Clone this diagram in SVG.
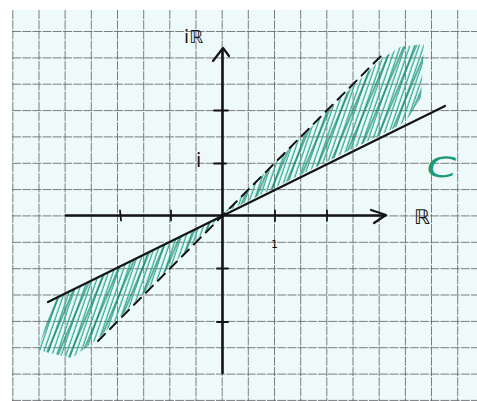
<svg xmlns="http://www.w3.org/2000/svg" width="477" height="401" viewBox="0 0 477 401">
<style>
.grid{fill:none;stroke:#666666;stroke-width:1;stroke-dasharray:9 1.2;opacity:.85}
.ink{fill:none;stroke:#141414;stroke-linecap:round;stroke-linejoin:round}
.lbl{font-family:"DejaVu Sans","Liberation Sans",sans-serif;fill:#141414}
</style>
<defs>
<pattern id="hatchA" patternUnits="userSpaceOnUse" width="4.4" height="30" patternTransform="rotate(19)">
<line x1="2" y1="0" x2="2" y2="30" stroke="#2fae94" stroke-width="1.3"/>
</pattern>
<pattern id="hatchB" patternUnits="userSpaceOnUse" width="11" height="30" patternTransform="rotate(23)">
<line x1="5" y1="0" x2="5" y2="30" stroke="#0d7a64" stroke-width="1.2"/>
</pattern>
</defs>
<rect width="477" height="401" fill="#ffffff"/>
<rect x="12" y="10" width="465" height="391" fill="#eefafa"/>
<g id="grid">
<path class="grid" d="M12.8 10V401M39 10V401M65.1 10V401M91.3 10V401M117.5 10V401M143.7 10V401M169.8 10V401M196 10V401M222.2 10V401M248.3 10V401M274.5 10V401M300.7 10V401M326.8 10V401M353 10V401M379.2 10V401M405.4 10V401M431.5 10V401M457.7 10V401"/>
<path class="grid" d="M12 31.5H477M12 57.9H477M12 84.2H477M12 110.6H477M12 136.9H477M12 163.3H477M12 189.6H477M12 215.9H477M12 242.3H477M12 268.7H477M12 295H477M12 321.4H477M12 347.7H477M12 374.1H477M12 400.4H477"/>
</g>
<g id="hatching">
<polygon points="225,212 300,138 380,60 400,47 424,44 421,98 408,118 400,125 300,175 230,210" fill="url(#hatchA)"/>
<polygon points="225,212 300,138 380,60 400,47 424,44 421,98 408,118 400,125 300,175 230,210" fill="url(#hatchB)"/>
<polygon points="219,218 140,257 54,298 38,350 50,353 72,358 100,337 160,277" fill="url(#hatchA)"/>
<polygon points="219,218 140,257 54,298 38,350 50,353 72,358 100,337 160,277" fill="url(#hatchB)"/>
</g>
<g id="connectors">
<path id="x-axis" class="ink" stroke-width="2.4" d="M66 215.5H385"/>
<path id="x-arrow" class="ink" stroke-width="2.2" d="M371 210L386 215L374 223"/>
<path id="y-axis" class="ink" stroke-width="2.6" d="M222.5 373V50"/>
<path id="y-arrow" class="ink" stroke-width="2.2" d="M213 61L223 48L229 56"/>
<path id="ticks" class="ink" stroke-width="1.8" d="M120 210.5L121 220.5M171 210.5V220.5M275 210.5V221M327 210.5V220.5M214 110.5H228M214 163.5H226M217 268.5H228M217 322H228"/>
<path id="solid-line" class="ink" stroke-width="2.2" d="M48 302L445 106"/>
<path id="dashed-line" class="ink" stroke-width="2" stroke-dasharray="10 7" d="M98 341L381 56"/>
</g>
<g id="labels">
<text class="lbl" x="184" y="43" font-size="18">iℝ</text>
<text class="lbl" x="414" y="224" font-size="20">ℝ</text>
<text class="lbl" x="271" y="248" font-size="11">1</text>
<text class="lbl" x="196" y="167" font-size="19">i</text>
<text class="lbl" font-size="28" style="fill:#1b9a7e" transform="translate(424 177) skewX(-12) scale(1.55 1)">C</text>
</g>
</svg>
